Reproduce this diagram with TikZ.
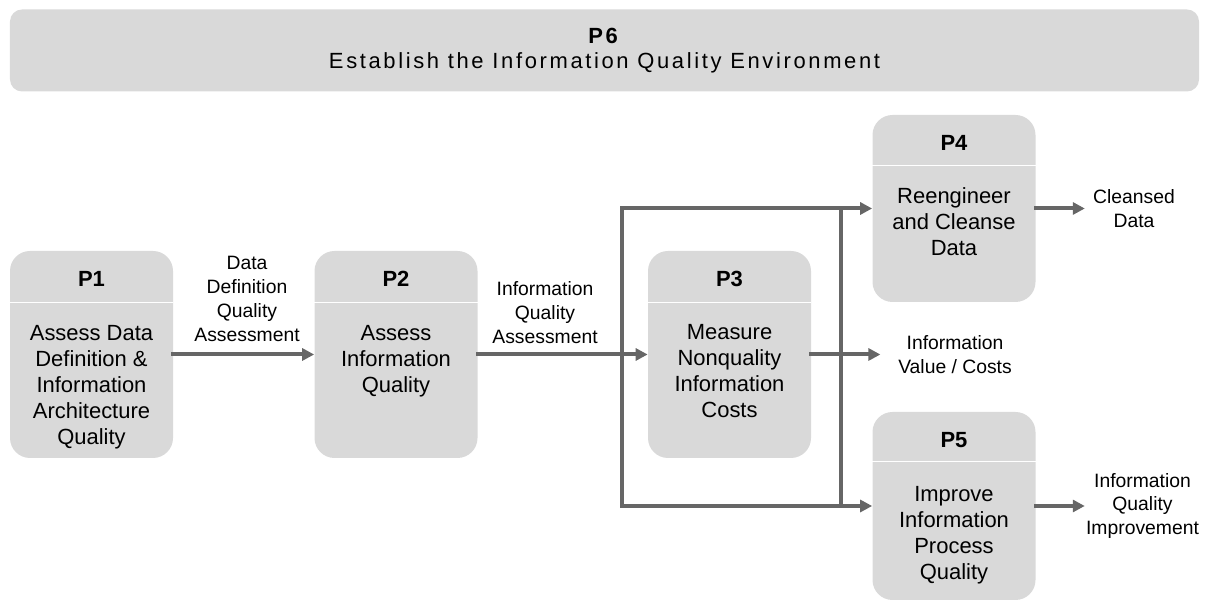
\documentclass[tikz,border=0pt]{standalone}
\usepackage{fontspec}
\setmainfont{Liberation Sans}
\usetikzlibrary{arrows.meta}

\begin{document}
\begin{tikzpicture}[
    >={Triangle[length=2.4mm, width=2.4mm]},
    font=\fontsize{12.5}{14.8}\selectfont,
    % Core styles: flat grey process boxes, 0.8mm dark grey wires
    proc/.style={fill=black!15, rounded corners=4mm, minimum width=3.26cm, inner sep=0pt},
    envbox/.style={fill=black!15, rounded corners=2.4mm, minimum width=23.78cm, minimum height=1.64cm, align=center, inner sep=0pt, font=\fontsize{12.5}{14.2}\selectfont\addfontfeature{LetterSpace=12}},
    ptitle/.style={font=\fontsize{12.5}{14.8}\selectfont\bfseries, inner sep=0pt},
    pbody/.style={anchor=north, align=center, inner sep=0pt},
    lbl/.style={align=center, inner sep=0pt, font=\fontsize{11}{13.6}\selectfont},
    hdrline/.style={draw=white, line width=0.6pt},
    wire/.style={draw=black!60, line width=0.8mm, line cap=rect},
    flow/.style={wire, ->}
  ]

  % Bounding box locked to the 1210 x 601 frame (0.2mm per pixel)
  \useasboundingbox (0, 0) rectangle (24.2, 12.02);

  % ---------------------------------------------------------
  % PLANE 1: ENVIRONMENT BAR (Y = 11.0)
  % ---------------------------------------------------------
  \node[envbox] (p6) at (12.09, 11.01) {\textbf{P6}\\Establish the Information Quality Environment};

  % ---------------------------------------------------------
  % PLANE 2: PROCESS BOXES
  % ---------------------------------------------------------
  \node[proc, minimum height=4.14cm] (p1) at (1.83, 4.93) {};
  \node[proc, minimum height=4.14cm] (p2) at (7.92, 4.93) {};
  \node[proc, minimum height=4.14cm] (p3) at (14.59, 4.93) {};
  \node[proc, minimum height=3.74cm] (p4) at (19.08, 7.85) {};
  \node[proc, minimum height=3.76cm] (p5) at (19.08, 1.90) {};

  % Box headers
  \node[ptitle] (p1t) at ([yshift=-5.6mm]p1.north) {P1};
  \node[ptitle] (p2t) at ([yshift=-5.6mm]p2.north) {P2};
  \node[ptitle] (p3t) at ([yshift=-5.6mm]p3.north) {P3};
  \node[ptitle] (p4t) at ([yshift=-5.6mm]p4.north) {P4};
  \node[ptitle] (p5t) at ([yshift=-5.6mm]p5.north) {P5};

  \draw[hdrline] ([yshift=-10.4mm]p1.north west) -- ([yshift=-10.4mm]p1.north east);
  \draw[hdrline] ([yshift=-10.4mm]p2.north west) -- ([yshift=-10.4mm]p2.north east);
  \draw[hdrline] ([yshift=-10.4mm]p3.north west) -- ([yshift=-10.4mm]p3.north east);
  \draw[hdrline] ([yshift=-10.2mm]p4.north west) -- ([yshift=-10.2mm]p4.north east);
  \draw[hdrline] ([yshift=-10.0mm]p5.north west) -- ([yshift=-10.0mm]p5.north east);

  % Box bodies
  \node[pbody] (p1b) at ([yshift=-14.8mm]p1.north) {Assess Data\\Definition \&\\Information\\Architecture\\Quality};
  \node[pbody] (p2b) at ([yshift=-14.8mm]p2.north) {Assess\\Information\\Quality};
  \node[pbody] (p3b) at ([yshift=-14.6mm]p3.north) {Measure\\Nonquality\\Information\\Costs};
  \node[pbody] (p4b) at ([yshift=-14.6mm]p4.north) {Reengineer\\and Cleanse\\Data};
  \node[pbody] (p5b) at ([yshift=-14.8mm]p5.north) {Improve\\Information\\Process\\Quality};

  % ---------------------------------------------------------
  % PLANE 3: FLOW LABELS
  % ---------------------------------------------------------
  \node[lbl, anchor=south] (ddqa) at (4.94, 5.18) {Data\\Definition\\Quality\\Assessment};
  \node[lbl, anchor=south] (iqa) at (10.9, 5.14) {Information\\Quality\\Assessment};
  \node[lbl] (val) at (19.1, 4.93) {Information\\Value / Costs};
  \node[lbl] (clean) at (22.68, 7.85) {Cleansed\\Data};
  \node[lbl] (iqi) at (22.85, 1.90) {Information\\Quality\\Improvement};

  % ---------------------------------------------------------
  % PLANE 4: CONNECTORS AND DISTRIBUTION BUS
  % ---------------------------------------------------------
  \coordinate (busL) at (12.44, 4.93);
  \coordinate (busR) at (16.82, 4.93);

  \draw[flow] (p1.east) -- (p2.west);
  \draw[flow] (p2.east) -- (p3.west);

  % Bus feeding P4 and P5 (left and right uprights)
  \draw[flow] (p5.west -| busL) |- (p4.west);
  \draw[flow] (p5.west -| busL) -- (p5.west);
  \draw[wire] (p4.west -| busR) -- (p5.west -| busR);

  % Outputs
  \draw[flow] (p3.east) -- ([xshift=-3.5mm]val.west);
  \draw[flow] (p4.east) -- ([xshift=-1.6mm]clean.west);
  \draw[flow] (p5.east) -- ([xshift=-0.2mm]iqi.west);

\end{tikzpicture}
\end{document}
